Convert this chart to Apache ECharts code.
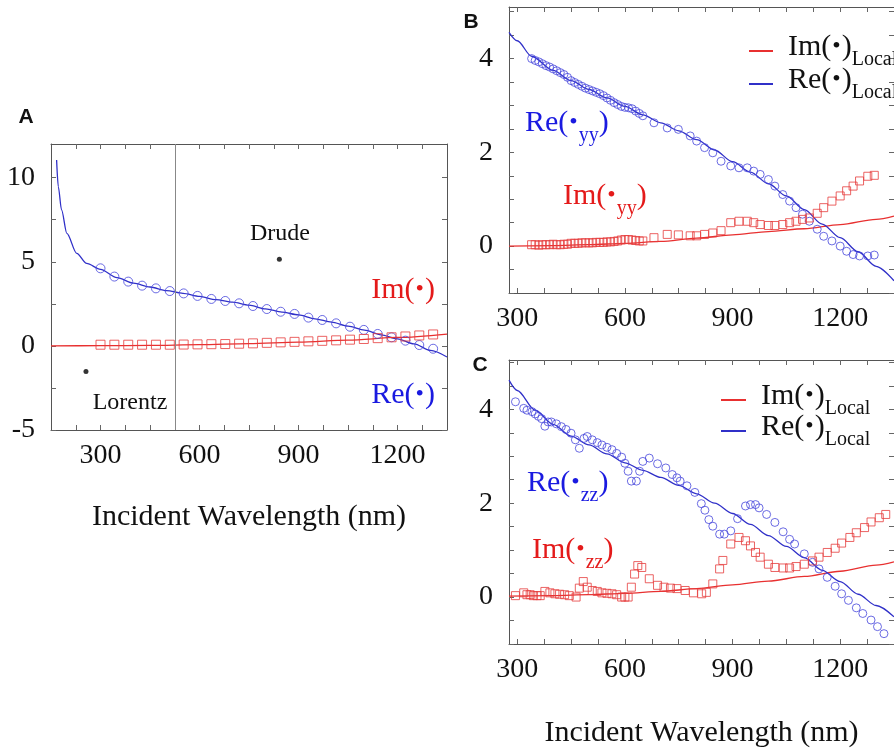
<!DOCTYPE html>
<html><head><meta charset="utf-8">
<script src="https://cdn.jsdelivr.net/npm/echarts@6/dist/echarts.min.js"></script>
<style>html,body{margin:0;padding:0;background:#fff}#c{width:894px;height:749px}</style>
</head><body><div id="c"></div>
<script>
// ---------- Panel A ----------
const aLineX = [167,172,182,198,228,258,300,350,400,450,500,550,600,650,700,750,800,850,900,950,1000,1050,1100,1150,1200,1250,1300,1350];
const aReLineY = [11.05,9.47,8.08,6.69,5.5,4.9,4.55,4.06,3.73,3.5,3.29,3.12,2.94,2.75,2.6,2.42,2.2,2.01,1.84,1.61,1.41,1.17,0.94,0.66,0.42,0.12,-0.27,-0.66];
const aImLineX = [150,300,450,600,750,900,1050,1200,1350];
const aImLineY = [0,0.01,0.03,0.07,0.13,0.22,0.34,0.5,0.7];
const aPtsX = [300,342,384,426,468,510,552,594,636,678,720,762,804,846,888,930,972,1014,1056,1098,1140,1182,1224,1266,1308];
const aRePtsY = [4.61,4.12,3.82,3.58,3.42,3.26,3.12,2.97,2.79,2.67,2.53,2.37,2.19,2.03,1.9,1.68,1.54,1.34,1.14,0.95,0.71,0.51,0.31,0.05,-0.17];
const aImPtsY = [0.07,0.07,0.07,0.07,0.07,0.07,0.08,0.09,0.1,0.11,0.13,0.15,0.18,0.21,0.24,0.27,0.3,0.33,0.37,0.41,0.46,0.51,0.56,0.62,0.68];
const aModelDots = [[256,-1.53],[842,5.15]];
const aDivider = 525;
const aXTicks = [225,300,375,450,525,600,675,750,825,900,975,1050,1125,1200,1275];
const aXLabels = [300,600,900,1200];
const aYTicks = [-5,-2.5,0,2.5,5,7.5,10];
const aYLabels = [-5,0,5,10];

// ---------- Panel B ----------
const bReLineX = [277,300,340,400,450,500,550,600,650,700,750,800,850,900,950,1000,1050,1100,1150,1200,1250,1300,1350];
const bReLineY = [4.56,4.38,4.05,3.75,3.53,3.34,3.16,2.98,2.8,2.63,2.46,2.27,2.05,1.8,1.58,1.33,1.07,0.78,0.47,0.18,-0.12,-0.43,-0.74];
const bImLineX = [277,400,500,600,700,800,900,1000,1100,1200,1300,1350];
const bImLineY = [0,0.01,0.03,0.06,0.1,0.17,0.24,0.31,0.37,0.46,0.57,0.64];
const bPtsX = [340,350,360,370,380,390,400,410,420,430,440,450,460,470,480,490,500,510,520,530,540,550,560,570,580,590,600,610,620,630,640,650,
  681,718,749,782,800,822,845,868,895,918,941,959,977,1000,1018,1040,1059,1077,1095,1114,1136,1154,1177,1200,1218,1236,1254,1277,1295];
const bRePtsY = [4.0,3.96,3.93,3.89,3.85,3.82,3.78,3.74,3.7,3.66,3.6,3.53,3.49,3.45,3.41,3.37,3.34,3.31,3.28,3.25,3.21,3.16,3.11,3.06,3.02,2.98,2.96,2.95,2.93,2.88,2.83,2.78,
  2.63,2.52,2.49,2.35,2.24,2.1,1.99,1.81,1.71,1.67,1.67,1.6,1.53,1.42,1.28,1.1,0.96,0.82,0.68,0.53,0.36,0.21,0.11,0.0,-0.11,-0.18,-0.21,-0.21,-0.19];
const bImPtsY = [0.03,0.03,0.02,0.03,0.03,0.03,0.04,0.03,0.03,0.04,0.04,0.06,0.06,0.06,0.07,0.07,0.07,0.07,0.08,0.08,0.08,0.09,0.09,0.1,0.11,0.13,0.14,0.14,0.13,0.12,0.11,0.11,
  0.18,0.25,0.24,0.22,0.22,0.25,0.28,0.33,0.5,0.53,0.53,0.5,0.46,0.44,0.44,0.46,0.5,0.53,0.57,0.6,0.7,0.82,0.96,1.07,1.18,1.28,1.39,1.49,1.51];

// ---------- Panel C ----------
const cReLineX = [277,300,350,400,450,500,550,600,650,700,750,800,850,900,950,1000,1050,1100,1150,1200,1250,1300,1350];
const cReLineY = [4.62,4.4,3.98,3.68,3.43,3.24,3.05,2.86,2.7,2.55,2.38,2.2,2.0,1.78,1.55,1.31,1.08,0.84,0.57,0.33,0.06,-0.18,-0.42];
const cImLineX = [277,400,500,600,700,800,900,1000,1100,1200,1300,1350];
const cImLineY = [0.02,0.03,0.05,0.08,0.12,0.18,0.26,0.34,0.44,0.55,0.68,0.75];
const cRePtsX = [295,318,327,341,350,359,368,377,386,395,409,423,436,450,462,473,486,495,509,523,536,550,564,577,591,600,609,618,632,641,650,668,691,714,732,745,754,773,795,813,823,834,845,864,877,895,914,936,950,964,974,995,1018,1041,1059,1073,1100,1123,1141,1164,1186,1204,1223,1245,1263,1286,1304,1322];
const cRePtsY = [4.16,4.02,3.98,3.95,3.9,3.85,3.8,3.64,3.73,3.73,3.69,3.63,3.57,3.49,3.35,3.17,3.38,3.42,3.35,3.29,3.24,3.19,3.14,3.06,2.98,2.85,2.68,2.47,2.47,2.68,2.89,2.96,2.84,2.75,2.61,2.54,2.47,2.37,2.23,1.99,1.85,1.65,1.51,1.34,1.34,1.41,1.67,1.94,1.97,1.97,1.9,1.76,1.59,1.39,1.23,1.13,0.92,0.74,0.6,0.42,0.23,0.07,-0.07,-0.23,-0.35,-0.49,-0.63,-0.78];
const cImPtsX = [295,318,327,336,345,355,364,377,391,405,418,432,445,464,473,484,495,509,523,536,550,564,577,591,600,609,618,627,636,647,668,691,709,727,745,768,791,814,827,845,864,873,895,918,936,950,964,977,1000,1018,1041,1059,1077,1100,1123,1141,1164,1186,1204,1227,1245,1268,1286,1309,1327];
const cImPtsY = [0.03,0.09,0.05,0.05,0.03,0.03,0.03,0.12,0.09,0.07,0.06,0.05,0.03,0.0,0.19,0.33,0.21,0.14,0.12,0.09,0.08,0.07,0.05,0.0,0.0,0.0,0.21,0.49,0.67,0.63,0.39,0.25,0.21,0.19,0.18,0.14,0.09,0.07,0.1,0.28,0.6,0.78,1.13,1.27,1.2,1.09,0.95,0.85,0.7,0.63,0.62,0.62,0.65,0.7,0.77,0.85,0.95,1.04,1.15,1.27,1.37,1.48,1.6,1.69,1.76];

const bcXTicks = [300,375,450,525,600,675,750,825,900,975,1050,1125,1200,1275,1350];
const bcXLabels = [300,600,900,1200];
const bcYTicks = [-1,-0.5,0,0.5,1,1.5,2,2.5,3,3.5,4,4.5,5];
const bcYLabels = [0,2,4];

// ---------- build ----------
const SERIF = '"Liberation Serif","Times New Roman",serif';
const SANS = '"Liberation Sans",Arial,sans-serif';
const BLUE_LINE = '#3030c8', BLUE_PT = '#4646dc', RED_LINE = '#e83030', RED_PT = '#e63c3c';
const BLUE_TXT = '#1a1ae0', RED_TXT = '#e41a1a';
const zip = (xs, ys) => xs.map((x, i) => [x, ys[i]]);

function xAx(grid, min, max, ticks, labels, pos, name, nameGap) {
  return {
    type: 'value', gridIndex: grid, position: pos, min, max,
    axisLine: { show: true, onZero: false, lineStyle: { color: '#555', width: 1 } },
    axisTick: { show: true, inside: true, length: 5, customValues: ticks, lineStyle: { color: '#666' } },
    axisLabel: { show: pos === 'bottom', customValues: labels, formatter: v => String(v), margin: 12,
      fontFamily: SERIF, fontSize: 28, color: '#111' },
    splitLine: { show: false },
    name: name || '', nameLocation: 'middle', nameGap: nameGap || 0,
    nameTextStyle: { fontFamily: SERIF, fontSize: 30, color: '#111' }
  };
}
function yAx(grid, min, max, ticks, labels, pos) {
  return {
    type: 'value', gridIndex: grid, position: pos, min, max,
    axisLine: { show: true, onZero: false, lineStyle: { color: '#555', width: 1 } },
    axisTick: { show: true, inside: true, length: 5, customValues: ticks, lineStyle: { color: '#666' } },
    axisLabel: { show: pos === 'left', customValues: labels, formatter: v => String(v), margin: 16,
      fontFamily: SERIF, fontSize: 28, color: '#111' },
    splitLine: { show: false }
  };
}
function line(name, xi, xs, ys, color) {
  return { name, type: 'line', xAxisIndex: xi, yAxisIndex: xi, data: zip(xs, ys), symbol: 'none',
    smooth: 0.3, smoothMonotone: 'x', lineStyle: { color, width: 1.3 }, itemStyle: { color },
    emphasis: { disabled: true }, silent: true, z: 2 };
}
function pts(xi, xs, ys, symbol, size, color) {
  return { type: 'scatter', xAxisIndex: xi, yAxisIndex: xi, data: zip(xs, ys), symbol, symbolSize: size,
    itemStyle: { color: 'rgba(0,0,0,0)', borderColor: color, borderWidth: 1 },
    emphasis: { disabled: true }, silent: true, z: 3 };
}
function richStyles(colorKey, color) {
  const s = {
    m: { fontFamily: SERIF, fontSize: 30, lineHeight: 30, verticalAlign: 'top' },
    d: { fontFamily: SERIF, fontSize: 24, padding: [3, 1, 0, 1], verticalAlign: 'top' },
    s: { fontFamily: SERIF, fontSize: 20, padding: [18, 0, 0, 0], verticalAlign: 'top' },
    g: { width: 10 }
  };
  Object.keys(s).forEach(k => { s[k][colorKey] = color; });
  return s;
}
function richLabel(x, y, head, sub, tail, color, align) {
  return { type: 'text', x, y, silent: true, style: {
    text: '{m|' + head + '}{d|•}' + (sub ? '{s|' + sub + '}' : '') + '{m|' + tail + '}',
    rich: richStyles('fill', color), fill: color, verticalAlign: 'top', align: align || 'left' } };
}
function plain(x, y, text, size, color, font, weight) {
  return { type: 'text', x, y, silent: true, style: { text, fontFamily: font || SERIF, fontSize: size,
    fontWeight: weight || 'normal', fill: color, align: 'center', verticalAlign: 'middle' } };
}
const legendFmt = n => '{g| }{m|' + (n.startsWith('Im') ? 'Im(' : 'Re(') + '}{d|•}{m|)}{s|Local}';

const option = {
  animation: false,
  backgroundColor: '#fff',
  grid: [
    { left: 51, top: 144, width: 396, height: 286 },
    { left: 509, top: 7, width: 393, height: 286 },
    { left: 509, top: 360, width: 393, height: 284 }
  ],
  xAxis: [
    xAx(0, 150, 1350, aXTicks, aXLabels, 'bottom', 'Incident Wavelength (nm)', 72),
    xAx(0, 150, 1350, aXTicks, aXLabels, 'top'),
    xAx(1, 277, 1350, bcXTicks, bcXLabels, 'bottom'),
    xAx(1, 277, 1350, bcXTicks, bcXLabels, 'top'),
    xAx(2, 277, 1350, bcXTicks, bcXLabels, 'bottom', 'Incident Wavelength (nm)', 74),
    xAx(2, 277, 1350, bcXTicks, bcXLabels, 'top')
  ],
  yAxis: [
    yAx(0, -5, 12, aYTicks, aYLabels, 'left'),
    yAx(0, -5, 12, aYTicks, aYLabels, 'right'),
    yAx(1, -1, 5.1, bcYTicks, bcYLabels, 'left'),
    yAx(1, -1, 5.1, bcYTicks, bcYLabels, 'right'),
    yAx(2, -1, 5.05, bcYTicks, bcYLabels, 'left'),
    yAx(2, -1, 5.05, bcYTicks, bcYLabels, 'right')
  ],
  legend: [
    { orient: 'vertical', left: 743, top: 27, itemWidth: 24, itemHeight: 2, itemGap: -5, selectedMode: false,
      data: ['ImB', 'ReB'], formatter: legendFmt, textStyle: { rich: richStyles('color', '#111') } },
    { orient: 'vertical', left: 715, top: 376, itemWidth: 25, itemHeight: 2, itemGap: -7, selectedMode: false,
      data: ['ImC', 'ReC'], formatter: legendFmt, textStyle: { rich: richStyles('color', '#111') } }
  ],
  series: [
    Object.assign(line('ReA', 0, aLineX, aReLineY, BLUE_LINE), {
      markLine: { silent: true, symbol: 'none', label: { show: false },
        lineStyle: { color: '#888', width: 1, type: 'solid' }, data: [{ xAxis: aDivider }] } }),
    line('ImA', 0, aImLineX, aImLineY, RED_LINE),
    pts(0, aPtsX, aRePtsY, 'circle', 9, BLUE_PT),
    pts(0, aPtsX, aImPtsY, 'rect', 9, RED_PT),
    { type: 'scatter', xAxisIndex: 0, yAxisIndex: 0, data: aModelDots, symbol: 'circle', symbolSize: 5,
      itemStyle: { color: '#000' }, silent: true, z: 4 },

    line('ImB', 2, bImLineX, bImLineY, RED_LINE),
    line('ReB', 2, bReLineX, bReLineY, BLUE_LINE),
    pts(2, bPtsX, bRePtsY, 'circle', 8, BLUE_PT),
    pts(2, bPtsX, bImPtsY, 'rect', 8, RED_PT),

    line('ImC', 4, cImLineX, cImLineY, RED_LINE),
    line('ReC', 4, cReLineX, cReLineY, BLUE_LINE),
    pts(4, cRePtsX, cRePtsY, 'circle', 8, BLUE_PT),
    pts(4, cImPtsX, cImPtsY, 'rect', 8, RED_PT)
  ],
  graphic: [
    plain(26, 117, 'A', 21, '#111', SANS, 'bold'),
    plain(471, 22, 'B', 21, '#111', SANS, 'bold'),
    plain(480, 365, 'C', 21, '#111', SANS, 'bold'),
    plain(280, 234, 'Drude', 24, '#111'),
    plain(130, 403, 'Lorentz', 24, '#111'),
    richLabel(435, 275, 'Im(', '', ')', RED_TXT, 'right'),
    richLabel(435, 380, 'Re(', '', ')', BLUE_TXT, 'right'),
    richLabel(525, 108, 'Re(', 'yy', ')', BLUE_TXT),
    richLabel(563, 181, 'Im(', 'yy', ')', RED_TXT),
    richLabel(527, 468, 'Re(', 'zz', ')', BLUE_TXT),
    richLabel(532, 535, 'Im(', 'zz', ')', RED_TXT)
  ]
};
const chart = echarts.init(document.getElementById('c'), null, { renderer: 'canvas' });
chart.setOption(option);
</script></body></html>
